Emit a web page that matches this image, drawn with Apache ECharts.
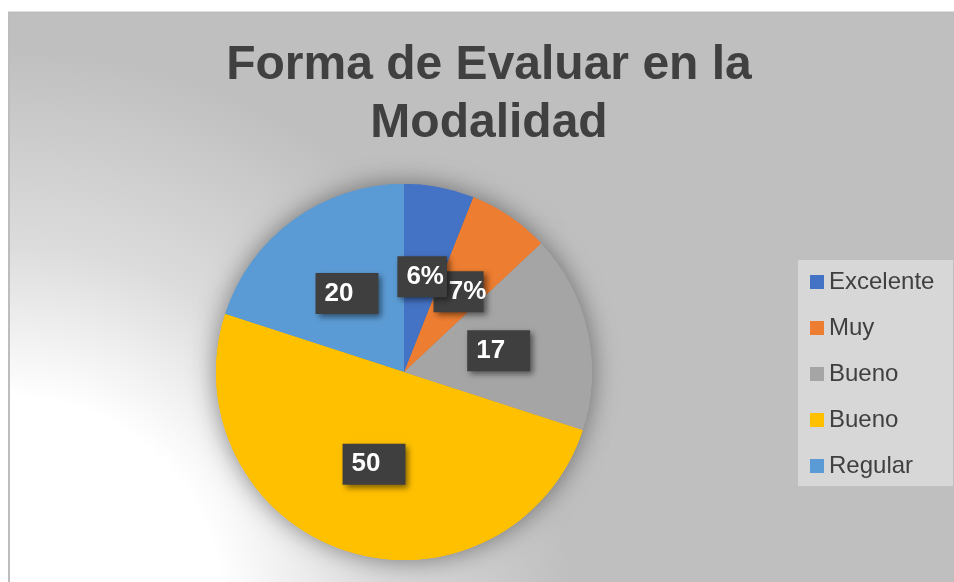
<!DOCTYPE html>
<html>
<head>
<meta charset="utf-8">
<title>Forma de Evaluar en la Modalidad</title>
<script src="https://cdn.jsdelivr.net/npm/echarts@6/dist/echarts.min.js"></script>
<style>
  html, body { margin: 0; padding: 0; background: #fff; }
  #chart { width: 954px; height: 582px; }
</style>
</head>
<body>
<div id="chart"></div>
<script>
// datos
const categories = ['Excelente', 'Muy', 'Bueno', 'Bueno', 'Regular'];
const values = [6, 7, 17, 50, 20];
const labelTexts = ['6%', '7%', '17', '50', '20'];
const colors = ['#4472C4', '#ED7D31', '#A5A5A5', '#FFC000', '#5B9BD5'];

// caja de cada etiqueta (como en el original, no son simétricas)
const labelBox = [
  { padding: [8, 3, 7, 9] },
  { padding: [8, 0, 7, 18], width: 32, overflow: 'none' },
  { padding: [8, 25, 7, 9] },
  { padding: [8, 25, 7, 9] },
  { padding: [8, 25, 7, 9] }
];

const chart = echarts.init(document.getElementById('chart'));

// hay dos "Bueno": la leyenda necesita nombres únicos
const keys = categories.map((c, i) => 'k' + i);

// se dibuja en orden inverso (antihorario) para que la etiqueta "6%" quede encima
const order = values.map((v, i) => i).reverse();

const pieData = order.map(i => ({
  name: keys[i],
  value: values[i],
  itemStyle: { color: colors[i] },
  label: Object.assign({ formatter: labelTexts[i] }, labelBox[i])
}));
const shadowData = order.map(i => ({ name: keys[i], value: values[i], itemStyle: { color: colors[i] } }));

const FONT = '"Liberation Sans", Arial, sans-serif';

const option = {
  animation: false,
  graphic: [
    {
      // fondo del área del gráfico con degradado radial
      type: 'rect',
      z: -10,
      silent: true,
      shape: { x: 9, y: 12.5, width: 960, height: 600 },
      style: {
        fill: {
          type: 'radial', x: 10, y: 610, r: 560, global: true,
          colorStops: [
            { offset: 0, color: '#ffffff' },
            { offset: 0.38, color: '#ffffff' },
            { offset: 0.65, color: '#dcdcdc' },
            { offset: 1, color: '#bfbfbf' }
          ]
        },
        stroke: '#bdbdbd',
        lineWidth: 2
      }
    },
    {
      type: 'text',
      silent: true,
      x: 489,
      y: 37,
      style: {
        text: 'Forma de Evaluar en la\nModalidad',
        font: 'bold 48px ' + FONT,
        fill: '#404040',
        align: 'center',
        verticalAlign: 'top',
        lineHeight: 58
      }
    },
    {
      // caja de la leyenda
      type: 'rect',
      silent: true,
      shape: { x: 798, y: 260, width: 155, height: 226 },
      style: { fill: '#d7d7d7' }
    }
  ],
  legend: {
    orient: 'vertical',
    left: 810,
    top: 270,
    padding: 0,
    itemWidth: 14,
    itemHeight: 14,
    itemGap: 22,
    icon: 'rect',
    data: keys,
    formatter: name => categories[keys.indexOf(name)],
    textStyle: { fontFamily: FONT, fontSize: 24, lineHeight: 22, color: '#404040' }
  },
  series: [
    {
      // sombra del pastel
      type: 'pie',
      silent: true,
      z: 1,
      center: [404, 372],
      radius: 188,
      startAngle: 90,
      clockwise: false,
      data: shadowData,
      label: { show: false },
      labelLine: { show: false },
      itemStyle: {
        shadowBlur: 26,
        shadowColor: 'rgba(0,0,0,0.45)'
      }
    },
    {
      type: 'pie',
      z: 2,
      center: [404, 372],
      radius: 188,
      startAngle: 90,
      clockwise: false,
      avoidLabelOverlap: false,
      labelLayout: { hideOverlap: false },
      data: pieData,
      labelLine: { show: false },
      emphasis: { disabled: true },
      label: {
        show: true,
        position: 'inside',
        fontFamily: FONT,
        fontSize: 26,
        fontWeight: 'bold',
        lineHeight: 26,
        color: '#ffffff',
        backgroundColor: '#3f3f3f',
        shadowColor: 'rgba(0,0,0,0.5)',
        shadowBlur: 6,
        shadowOffsetX: 3,
        shadowOffsetY: 3
      }
    }
  ]
};

chart.setOption(option);
</script>
</body>
</html>
